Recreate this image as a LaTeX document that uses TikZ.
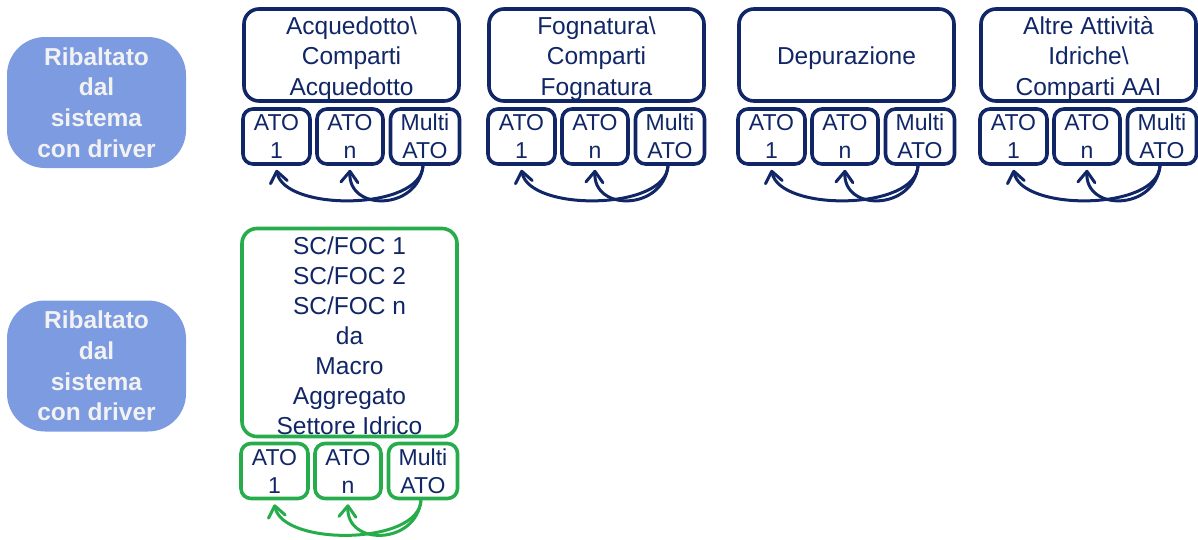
\documentclass[tikz,border=0pt]{standalone}
\usepackage{fontspec}
\setmainfont{Liberation Sans}
\usetikzlibrary{arrows.meta}
\definecolor{navy}{RGB}{16,38,102}
\definecolor{grn}{RGB}{38,172,75}
\definecolor{bluefill}{RGB}{125,155,225}
\definecolor{wtxt}{RGB}{242,242,242}
\tikzset{
  mainbox/.style={draw, line width=3.6pt, rounded corners=15pt, minimum width=215pt, inner sep=0pt},
  maintext/.style={align=center, text=navy, inner sep=0pt, font=\fontsize{24.5}{30.5}\selectfont},
  greentext/.style={align=center, text=navy, inner sep=0pt, font=\fontsize{24.5}{30}\selectfont},
  subbox/.style={draw, line width=3.6pt, rounded corners=10pt, minimum height=55pt,
    align=center, text=navy, inner sep=0pt, font=\fontsize{23}{28}\selectfont},
  sidebox/.style={fill=bluefill, rounded corners=38pt, minimum width=179pt, minimum height=131pt,
    align=center, text=wtxt, inner sep=0pt, font=\fontsize{24.5}{30.7}\selectfont\bfseries},
  arr/.style={line width=3pt, -{Straight Barb[length=11pt,width=17pt,line cap=round,line join=round]}}
}
\newcommand\wgrp[8]{%
  \node[mainbox, draw=#6, minimum height=#4] (#1) at (#2+108,#3) {};
  \node[#8] (#1t) at ([yshift=-3.5pt]#1.center) {#7};
  \node[subbox, draw=#6, minimum width=67pt] (#1a) at (#2+33,#5) {ATO\\1};
  \node[subbox, draw=#6, minimum width=66pt] (#1n) at (#2+106.5,#5) {ATO\\n};
  \node[subbox, draw=#6, minimum width=69pt] (#1m) at (#2+181.5,#5) {Multi\\ATO};
  \draw[arr, draw=#6] ([xshift=-2pt]#1m.south) .. controls +(-2,45) and +(8,42) .. ([yshift=-4pt]#1a.south);
  \draw[arr, draw=#6] ([xshift=-2pt]#1m.south) .. controls +(-5,45) and +(-2,42) .. ([yshift=-4pt]#1n.south);
}
\begin{document}
\begin{tikzpicture}[x=1pt, y=-1pt]
\useasboundingbox (0,0) rectangle (1198,539);
\node[sidebox] (s1) at (96.5,102.5) {Ribaltato\\dal\\sistema\\con driver};
\node[sidebox] (s2) at (96.5,366) {Ribaltato\\dal\\sistema\\con driver};
\wgrp{g1}{243.5}{55}{92}{136.5}{navy}{Acquedotto\textbackslash\\Comparti\\Acquedotto}{maintext}
\wgrp{g2}{488.5}{55}{92}{136.5}{navy}{Fognatura\textbackslash\\Comparti\\Fognatura}{maintext}
\wgrp{g3}{738.5}{55}{92}{136.5}{navy}{Depurazione}{maintext}
\wgrp{g4}{980.5}{55}{92}{136.5}{navy}{Altre Attività\\Idriche\textbackslash\\Comparti AAI}{maintext}
\wgrp{g5}{241.5}{332.5}{208}{471}{grn}{SC/FOC 1\\SC/FOC 2\\SC/FOC n\\da\\Macro\\Aggregato\\Settore Idrico}{greentext}
\end{tikzpicture}
\end{document}
